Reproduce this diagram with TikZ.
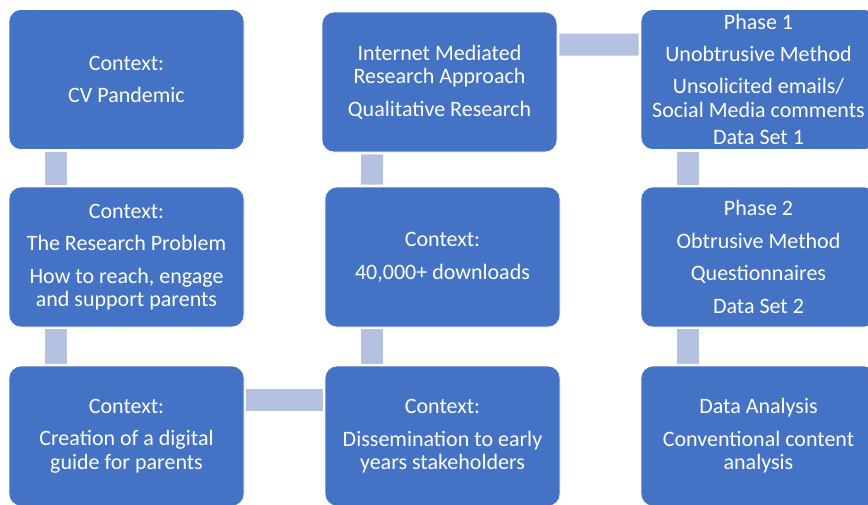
\documentclass[tikz,border=0pt]{standalone}
\usepackage{fontspec}
\setmainfont{Carlito}
\usetikzlibrary{positioning}

\definecolor{boxblue}{HTML}{4472C4}
\definecolor{linkblue}{HTML}{B4C1E0}

\begin{document}
\begin{tikzpicture}[x=0.75pt, y=-0.75pt,
    stage/.style={rectangle, rounded corners=9pt, draw=white, line width=0.5pt, fill=boxblue, text=white,
        minimum width=176.25pt, minimum height=105pt, align=center, inner sep=1pt,
        font=\fontsize{16.5}{17.5}\selectfont},
    link/.style={draw=linkblue, line width=16.5pt, shorten <=1.5pt, shorten >=1.5pt}]

    \useasboundingbox (0,0) rectangle (868,504);

    \coordinate (p11) at (126.5,79.5);
    \coordinate (p12) at (126.5,257);
    \coordinate (p13) at (126.5,436);
    \coordinate (p21) at (439.5,82);
    \coordinate (p22) at (442.5,257);
    \coordinate (p23) at (442.5,436);
    \coordinate (p31) at (758.5,79.5);
    \coordinate (p32) at (758.5,257);
    \coordinate (p33) at (758.5,436);

    \node[stage] (pandemic) at (p11) {Context:\\[7pt]CV Pandemic};
    \node[stage] (problem) at (p12) {Context:\\[7pt]The Research Problem\\[7pt]How to reach, engage\\and support parents};
    \node[stage] (guide) at (p13) {Context:\\[7pt]Creation of a digital\\guide for parents};
    \node[stage] (dissem) at (p23) {Context:\\[7pt]Dissemination to early\\years stakeholders};
    \node[stage] (downloads) at (p22) {Context:\\[7pt]40,000+ downloads};
    \node[stage] (imr) at (p21) {Internet Mediated\\Research Approach\\[7pt]Qualitative Research};
    \node[stage] (phaseone) at (p31) {Phase 1\\[6.5pt]Unobtrusive Method\\[6.5pt]Unsolicited emails/\\Social Media comments\\[3pt]Data Set 1};
    \node[stage] (phasetwo) at (p32) {Phase 2\\[7pt]Obtrusive Method\\[7pt]Questionnaires\\[7pt]Data Set 2};
    \node[stage] (analysis) at (p33) {Data Analysis\\[7pt]Conventional content\\analysis};

    % bars between the boxes
    \path[link] ([xshift=-52.9pt]pandemic.south) -- ([xshift=-52.9pt]problem.north);
    \path[link] ([xshift=-52.9pt]problem.south) -- ([xshift=-52.9pt]guide.north);
    \path[link] ([yshift=27pt]guide.east) -- ([yshift=27pt]dissem.west);
    \path[link] ([xshift=-52.9pt]dissem.north) -- ([xshift=-52.9pt]downloads.south);
    \path[link] ([xshift=-52.9pt]downloads.north) -- ([xshift=-50.6pt]imr.south);
    \path[link] ([yshift=28.1pt]imr.east) -- ([yshift=26.25pt]phaseone.west);
    \path[link] ([xshift=-52.9pt]phaseone.south) -- ([xshift=-52.9pt]phasetwo.north);
    \path[link] ([xshift=-52.9pt]phasetwo.south) -- ([xshift=-52.9pt]analysis.north);

\end{tikzpicture}
\end{document}
